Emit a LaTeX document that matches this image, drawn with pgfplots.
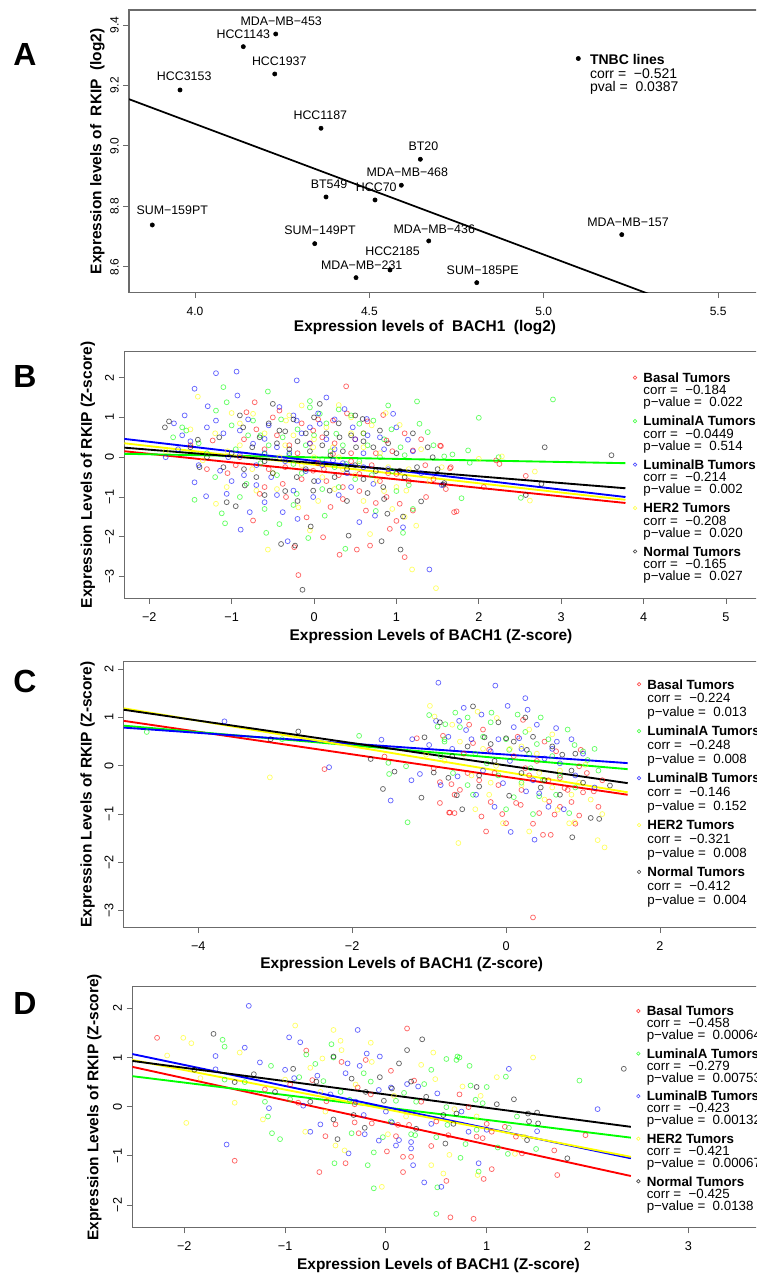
\documentclass[border=0pt]{standalone}
\usepackage{fontspec}
\setmainfont{Liberation Sans}
\usepackage{pgfplots}
\pgfplotsset{compat=1.18}

\definecolor{rc}{rgb}{1,0,0}
\definecolor{gc}{rgb}{0,1,0}
\definecolor{bc}{rgb}{0,0,1}
\definecolor{yc}{rgb}{1,1,0}
\definecolor{kc}{rgb}{0,0,0}
\definecolor{axgray}{gray}{0.42}

\pgfplotsset{
  rpanel/.style={
    scale only axis, anchor=south west,
    axis line style={axgray, line width=0.8pt},
    tick style={axgray, line width=0.7pt},
    tick align=outside, tick pos=left,
    major tick length=4.2pt,
    ticklabel style={font=\fontsize{9.5}{10}\selectfont},
    xticklabel style={yshift=-3pt},
    yticklabel style={rotate=90, anchor=south},
    label style={font=\bfseries\fontsize{11.6}{13}\selectfont},
    xlabel style={anchor=center},
    ylabel style={anchor=center},
    /pgf/number format/assume math mode=true,
  },
  pt/.style={only marks, mark=o, mark size=1.85pt, forget plot,
    mark options={draw=#1, draw opacity=0.6, line width=0.55pt}},
  rl/.style={draw=#1, line width=1.4pt, forget plot},
  rlegend/.style 2 args={legend style={draw=none, fill=none, inner sep=0pt,
    outer sep=0pt, row sep=0pt, column sep=0pt, cells={anchor=base west},
    nodes={inner sep=0pt, text height=7pt, text depth=#2,
      font=\fontsize{10}{11}\selectfont},
    at={#1}, anchor=north west}},
}

% one legend group: colour, title, corr, p-value, depth of last row
\newcommand\leggroup[5]{%
  \addlegendimage{legend image code/.code={\path[draw=none] (-2.5pt,0pt) (6.3pt,0pt);
    \draw[#1, draw opacity=0.7, line width=0.5pt] (0pt,3.6pt) circle[radius=1.3pt];}}
  \addlegendentry{\textbf{#2}}
  \addlegendimage{empty legend}\addlegendentry{corr = ~#3}
  \addlegendimage{empty legend}\addlegendentry[text depth=#5]{p−value = ~#4}
}

\begin{document}
\begin{tikzpicture}
\useasboundingbox (0pt,0pt) rectangle (567pt,957pt);
\begin{scope}
\clip (0pt,0pt) rectangle (567pt,957pt);

% ---------------- A : TNBC cell lines ----------------
\begin{axis}[rpanel, at={(96.75pt,737.5pt)}, width=485.25pt, height=212pt,
  xmin=3.8107, xmax=5.666, ymin=8.515, ymax=9.4496,
  xtick={4.0,4.5,5.0,5.5}, xticklabels={4.0,4.5,5.0,5.5},
  ytick={8.6,8.8,9.0,9.2,9.4}, yticklabels={8.6,8.8,9.0,9.2,9.4},
  ticklabel style={font=\fontsize{9}{10}\selectfont},
  xlabel={Expression levels of ~BACH1 ~(log2)},
  ylabel={Expression levels of ~RKIP ~(log2)},
  xlabel style={at={(axis description cs:0.4575,-0.1249)}},
  ylabel style={at={(axis description cs:-0.0487,0.5)}},
  legend style={draw=none, fill=none, inner sep=0pt, outer sep=0pt,
    row sep=0pt, column sep=0pt, cells={anchor=base west},
    nodes={inner sep=0pt, text height=7.5pt, text depth=2.85pt,
      font=\fontsize{10.5}{11}\selectfont},
    at={(0.6893,0.8429)}, anchor=north west},
]
\addplot[black, line width=1.3pt, forget plot] coordinates {(3.70,9.2025) (5.40,8.468)};
\addplot[only marks, mark=*, mark size=1.6pt, black, forget plot] table {
x y
4.2314 9.3702
4.1385 9.3283
4.2286 9.2380
3.9570 9.1851
4.3613 9.0585
4.6461 8.9560
4.5916 8.8701
4.3757 8.8314
4.5162 8.8215
3.8775 8.7388
4.3433 8.6770
4.6702 8.6860
4.5592 8.5900
4.4617 8.5646
4.8079 8.5480
5.2237 8.7068
};
\addplot[only marks, mark=none, forget plot, nodes near coords,
  point meta=explicit symbolic, nodes near coords align={anchor=base},
  every node near coord/.append style={inner sep=0pt, font=\fontsize{9.3}{10}\selectfont}]
  table[meta=name] {
x y name
4.2472 9.3967 MDA−MB−453
4.1385 9.3537 HCC1143
4.2415 9.2655 HCC1937
3.9690 9.2149 HCC3153
4.3593 9.0883 HCC1187
4.6547 8.9845 BT20
4.6088 8.8985 MDA−MB−468
4.3843 8.8602 BT549
4.5199 8.8503 HCC70
3.9346 8.7719 SUM−159PT
4.3585 8.7081 SUM−149PT
4.6860 8.7114 MDA−MB−436
4.5664 8.6374 HCC2185
4.4780 8.5924 MDA−MB−231
4.8251 8.5736 SUM−185PE
5.2418 8.7332 MDA−MB−157
};
\addlegendimage{legend image code/.code={\path[draw=none] (-2.5pt,0pt) (8.8pt,0pt);
  \fill[black] (0pt,4.4pt) circle[radius=1.6pt];}}
\addlegendentry{\textbf{TNBC lines}}
\addlegendimage{empty legend}\addlegendentry{corr = ~−0.521}
\addlegendimage{empty legend}\addlegendentry{pval = ~0.0387}
\end{axis}

% ---------------- B ----------------
\begin{axis}[rpanel, at={(93.2pt,508.3pt)}, width=488.8pt, height=185pt,
  xmin=-2.303, xmax=5.607, ymin=-3.543, ymax=2.653,
  xtick={-2,-1,0,1,2,3,4,5}, xticklabels={−2,−1,0,1,2,3,4,5},
  ytick={-3,-2,-1,0,1,2}, yticklabels={−3,−2,−1,0,1,2},
  xlabel={Expression Levels of BACH1 (Z-score)},
  ylabel={Expression Levels of RKIP (Z-score)},
  xlabel style={at={(axis description cs:0.4706,-0.1557)}},
  ylabel style={at={(axis description cs:-0.0560,0.5)}},
  rlegend={(0.7786,0.9128)}{2.2pt},
]
\addplot[pt=rc] coordinates {(0.39,1.78) (-0.19,-2.96) (0.84,1.06) (1.10,-2.51) (0.68,-2.22) (0.52,-2.32) (0.31,-2.45) (0.11,-2.01) (-0.24,-2.26) (-0.74,-1.59) (-0.66,-0.92) (-0.38,-0.67) (-0.90,0) (-0.82,1.13) (-0.72,1.38) (-0.42,1.17) (-0.01,0.67) (0.23,0.92) (-0.01,-0.34) (0.35,-0.75) (0.63,-1.34) (0.88,-1.0) (1.04,-1.17) (1.2,-1.34) (1.36,-1.0) (1.53,0.29) (1.66,-0.25) (1.70,-1.38) (0.92,-1.8) (0.55,-0.42) (1.0,-0.42) (-0.09,-1.51) (-1.23,0.42) (1.20,0.17) (0.88,0.42) (-0.34,-1.0) (0.23,0.08) (1.54,0.28) (1.65,-0.28) (1.73,-1.36) (2.06,-0.75) (2.57,-0.47) (2.21,-0.08) (2.25,-0.17) (-0.3,0.3) (0.1,0.5) (0.45,0.1) (-0.55,-0.3) (0.15,-0.6) (0.7,-0.2) (-0.15,0.85) (0.35,-1.05) (-1.05,-0.4) (0.6,0.6) (1.3,0.45) (-0.6,0.2) (0.05,-0.15) (0.8,-0.6) (-1.5,0.3) (1.45,-0.55)
 (-0.45,0.55) (-0.2,0.1) (0.25,0.35) (0.5,0.45) (0.75,0.1) (0.95,0.15) (-0.7,0.7) (-0.95,-0.2) (-0.15,-0.55) (0.3,-0.45) (0.55,-0.85) (0.9,-0.4) (1.15,-0.6) (-0.35,-0.25) (0.05,0.95) (0.4,1.1) (-0.6,-0.75) (0.2,-1.25) (0.75,-1.15) (1.0,-1.6) (-0.5,1.0) (-1.3,-0.3) (0.65,0.9) (1.1,0.6) (1.35,-0.2) (-0.05,0.35) (0.12,-0.3) (-0.85,0.45) (0.45,-0.1) (1.6,-0.8)};
\addplot[pt=gc] coordinates {(-1.10,1.76) (-0.56,1.65) (-0.05,1.41) (1.25,1.40) (1.28,0.84) (1.38,0.63) (-1.71,0.50) (-1.45,-1.07) (-1.12,-1.41) (-1.08,-1.66) (-0.58,-1.90) (-0.07,-2.03) (0.38,-2.30) (1.08,-1.90) (0.55,0.84) (0.72,0.92) (0.94,0.70) (0.13,-1.47) (-0.42,-1.68) (-0.21,-0.92) (-0.82,-0.67) (-1.06,1.38) (-1.19,1.17) (-1.55,0.67) (-0.60,0.08) (-0.38,0.50) (0.07,1.09) (0.27,0.59) (0.39,-0.17) (0.80,0) (-0.25,-0.17) (-0.74,0.92) (2.90,1.45) (2.00,0.99) (1.87,0.17) (1.89,-0.14) (1.68,0.07) (1.58,0.02) (1.79,-1.03) (2.51,-1.02) (2.24,0) (-0.1,0.3) (0.2,0.15) (-0.45,-0.45) (0.5,-0.55) (-0.95,0.2) (0.1,-0.8) (0.95,-0.35) (-1.3,0.1) (0.65,0.3) (-0.2,0.7) (1.15,-0.7) (0.3,1.2) (-0.65,0.55) (-1.6,0.75) (1.2,-1.3)
 (-0.3,0.05) (0.0,0.55) (0.35,0.3) (-0.55,0.3) (-0.8,0.55) (0.6,0.6) (0.85,0.45) (1.05,0.25) (-1.0,0.8) (-0.15,-0.4) (0.25,-0.25) (0.55,-0.1) (-0.4,0.95) (0.15,0.85) (0.45,1.05) (-0.65,-0.15) (-1.2,-0.5) (0.7,-0.45) (1.0,-0.85) (-0.25,-1.2) (0.3,-0.75) (-0.9,-1.0) (0.9,1.3) (1.45,0.3) (-1.4,0.35) (0.1,-0.05) (-0.05,1.25) (0.75,-1.35) (-0.6,-1.3) (1.1,0.05)};
\addplot[pt=bc] coordinates {(-1.19,2.11) (-0.94,2.15) (-0.21,1.93) (-1.45,1.72) (-1.29,1.28) (-1.57,1.05) (-1.70,0.85) (-1.19,0.92) (-0.93,1.55) (-1.80,0) (-1.45,-0.63) (-1.31,-0.98) (-1.06,-0.92) (-0.89,-1.82) (-0.78,-1.38) (-0.60,-1.13) (-0.38,-1.38) (-0.32,-2.11) (0.64,0.96) (0.74,-1.47) (1.08,-1.76) (1.40,-2.82) (1.14,0.44) (-0.60,0.46) (-0.9,0.67) (-0.74,0.34) (-0.05,0.34) (-0.01,-1.0) (0.07,0.84) (0.47,0.75) (0.55,-1.63) (0.72,-0.67) (0.96,1.09) (-1.04,0) (-1.14,-0.34) (-0.42,1.26) (-0.25,-0.84) (0.23,-0.08) (-0.21,0.92) (-0.52,-0.5) (0.37,1.21) (-0.3,0.1) (0.15,0.45) (-0.7,-0.2) (0.4,-0.4) (-1.5,0.4) (0.3,-0.95) (-0.1,-0.35) (0.85,0.2) (1.3,-0.4) (-0.55,0.8) (-1.65,0.2) (0.6,0.1) (-0.85,-0.45) (1.55,-0.7) (0.05,1.1)
 (-0.45,0.25) (-0.15,0.6) (0.25,0.2) (0.5,0.45) (0.8,0.5) (-0.8,0.95) (-1.1,0.6) (-1.3,0.75) (-0.35,-0.1) (0.05,-0.6) (0.45,-0.75) (0.9,-0.3) (-0.6,0.1) (-1.0,-0.6) (-0.25,1.05) (0.25,0.95) (0.65,0.55) (-1.4,-0.2) (-0.7,-0.7) (0.1,-0.2) (0.6,-0.25) (1.0,0.75) (-0.05,0.75) (-0.45,-0.95) (-1.6,0.55) (-0.9,0.05) (0.35,-0.15) (1.2,0.15) (-0.2,-1.55) (0.15,1.5)};
\addplot[pt=yc] coordinates {(-1.41,1.52) (-1.00,1.11) (-0.56,-2.32) (0.30,1.31) (0.87,1.11) (1.04,0.81) (1.19,-2.82) (1.48,-3.29) (1.24,-1.72) (0.68,-1.93) (-1.19,-1.17) (-1.06,-0.75) (-0.74,1.09) (-0.34,0.92) (-0.01,0.25) (0.23,0.25) (0.55,-0.17) (0.76,-0.59) (1.0,-0.75) (1.12,-0.84) (-0.19,-1.26) (-0.70,-0.84) (-1.35,-0.08) (-0.42,0) (-0.05,-1.84) (2.0,-0.04) (2.28,0.02) (2.68,-0.36) (2.62,-1.09) (1.55,-0.25) (-0.25,0.55) (0.45,0.6) (0.1,-0.5) (-0.9,0.3) (0.6,-1.1) (-0.5,-0.4) (1.3,0.2) (-1.8,0.15) (0.35,-0.3) (-0.15,1.3) (0.9,-0.25) (-1.2,0.6)
 (-0.35,0.3) (0.0,0.45) (0.3,0.0) (0.6,0.25) (-0.6,0.6) (-0.9,0.85) (0.15,0.75) (0.8,0.1) (-0.15,-0.2) (0.25,-0.8) (0.5,-0.45) (1.15,-0.3) (-1.05,0.15) (-0.45,-0.8) (0.05,-1.1) (0.95,-1.3) (0.7,0.8) (-0.75,-0.3) (1.4,-0.6) (-0.3,1.05) (0.45,1.0) (1.1,-1.5) (-1.5,0.7) (0.85,-0.85) (0.0,0.0)};
\addplot[pt=kc] coordinates {(-0.14,-3.33) (-1.76,0.90) (-1.81,0.75) (-1.06,-1.13) (-0.95,-1.23) (-0.40,-2.18) (-0.23,-2.22) (-0.04,-1.74) (0.42,-1.97) (0.82,-2.11) (1.05,-2.32) (1.08,-1.49) (0.89,-1.42) (1.30,-1.11) (0.59,0.96) (1.38,0.25) (1.44,0) (0.84,-0.75) (-1.41,0.44) (-1.39,-0.25) (-0.84,-0.71) (-0.50,1.34) (0.07,1.34) (-0.66,0.50) (-0.42,0.67) (0.31,0.50) (0.51,0.25) (0.72,0.25) (0.80,0.67) (-0.21,-0.50) (-0.01,-0.84) (0.19,-0.84) (1.04,-0.34) (-1.10,-0.25) (-0.70,-0.5) (-0.86,0.75) (1.58,-0.65) (2.80,0.25) (3.61,0.05) (2.76,-0.67) (2.57,-0.95) (1.57,-0.69) (-0.3,0.2) (0.2,0.05) (-0.6,-0.1) (0.4,-0.3) (-0.1,0.6) (0.6,-0.55) (-1.0,0.1) (0.0,1.0) (-0.35,-0.85) (1.2,0.6)
 (-0.45,0.35) (-0.2,0.4) (0.1,0.3) (0.35,0.15) (0.6,0.4) (0.9,0.35) (-0.75,0.25) (-1.15,0.5) (-0.55,0.85) (-0.25,0.95) (0.3,0.85) (0.5,1.05) (-0.1,-0.3) (0.25,-0.5) (0.5,-0.2) (0.75,-0.35) (1.1,-0.5) (-0.5,-0.4) (-0.85,-0.3) (-1.3,0.0) (0.0,-0.6) (0.4,-1.1) (0.65,-0.9) (-0.6,-0.95) (-0.2,-1.1) (1.0,0.1) (1.25,-0.25) (-0.35,0.65) (0.15,0.6) (-0.05,0.15) (0.45,0.55) (-0.9,1.05) (-1.5,0.25) (0.85,-1.05) (1.5,-0.3)};
\addplot[rl=rc] coordinates {(-2.303,0.15) (3.78,-1.15)};
\addplot[rl=gc] coordinates {(-2.303,0.085) (3.78,-0.15)};
\addplot[rl=bc] coordinates {(-2.303,0.46) (3.78,-1.00)};
\addplot[rl=yc] coordinates {(-2.303,0.35) (3.78,-1.07)};
\addplot[rl=kc] coordinates {(-2.303,0.24) (3.78,-0.78)};
\leggroup{rc}{Basal Tumors}{−0.184}{0.022}{7.2pt}
\leggroup{gc}{LuminalA Tumors}{−0.0449}{0.514}{7.2pt}
\leggroup{bc}{LuminalB Tumors}{−0.214}{0.002}{7.2pt}
\leggroup{yc}{HER2 Tumors}{−0.208}{0.020}{7.2pt}
\leggroup{kc}{Normal Tumors}{−0.165}{0.027}{2.2pt}
\end{axis}

% ---------------- C ----------------
\begin{axis}[rpanel, at={(92.8pt,261.4pt)}, width=489.2pt, height=199.4pt,
  xmin=-4.969, xmax=3.508, ymin=-3.348, ymax=2.157,
  xtick={-4,-2,0,2}, xticklabels={−4,−2,0,2},
  ytick={-3,-2,-1,0,1,2}, yticklabels={−3,−2,−1,0,1,2},
  xlabel={Expression Levels of BACH1 (Z-score)},
  ylabel={Expression Levels of RKIP (Z-score)},
  xlabel style={at={(axis description cs:0.4262,-0.1411)}},
  ylabel style={at={(axis description cs:-0.0555,0.5)}},
  rlegend={(0.7849,0.9319)}{3.3pt},
]
\addplot[pt=rc] coordinates {(-2.36,-0.07) (-1.58,0.19) (-1.16,0.57) (-0.82,0.62) (-0.86,-0.34) (-0.86,-0.77) (-0.73,-0.97) (-0.67,-0.98) (-0.71,-0.38) (-0.67,-0.60) (-0.94,-0.05) (0.35,-3.14) (0.97,0.33) (1.14,-0.53) (0.95,-1.03) (-0.26,-1.36) (0.58,-1.43) (0.48,-1.43) (0.76,-0.46) (-0.48,0.85) (-0.43,0.47) (0.22,0.95) (-0.22,0.33) (-0.74,-0.97) (-0.32,-1.05) (0,-1.19) (0.19,-0.81) (0.13,-0.77) (0.43,-0.98) (0.63,-1.01) (0.56,-0.74) (0.95,-0.01) (0.3,-0.2) (-0.1,-0.4) (0.7,-0.25) (1.25,-0.3) (-0.5,-0.15) (0.1,0.2) (0.85,-0.75) (-0.2,-0.75)
 (0.2,-0.5) (0.55,-0.3) (0.8,-0.5) (1.0,-0.55) (0.4,0.1) (-0.35,-0.3) (0.65,0.3) (-0.05,-1.0) (0.35,-1.2) (0.9,-1.2) (1.2,-0.85) (-0.55,0.25) (0.15,0.6) (-0.3,0.75) (0.7,-0.85) (1.05,-0.15) (-0.6,-0.5) (0.5,0.5) (0.25,-0.05) (-0.15,-0.15)};
\addplot[pt=gc] coordinates {(-4.67,0.70) (-2.91,0.55) (-1.91,0.62) (-1.53,0.06) (-1.52,-0.17) (-1.30,-0.01) (-1.28,-1.17) (-0.89,0.81) (-0.79,0.86) (-0.80,0.50) (-0.69,-0.15) (-0.66,1.10) (-0.19,1.10) (0.15,1.06) (-0.5,1.0) (0.89,0.43) (1.06,0.12) (0.65,-0.6) (0.04,0.33) (-0.43,-0.60) (0.82,-0.98) (0.43,-0.63) (0.32,-0.05) (0.48,-0.29) (-0.3,0.6) (0.25,0.7) (0.6,0.2) (-0.1,-0.2) (1.2,-0.1) (0.0,-0.9) (-0.85,0.2) (0.4,0.45) (-1.0,1.05)
 (-0.6,0.8) (-0.4,0.25) (0.0,0.55) (0.3,0.25) (0.55,0.55) (0.8,0.75) (1.0,0.3) (-0.2,0.9) (0.45,1.0) (0.7,-0.2) (0.2,-0.35) (-0.5,-0.4) (0.9,-0.45) (-0.8,0.55) (0.1,-0.65) (1.15,0.35) (0.35,-1.0) (-0.25,0.05)};
\addplot[pt=bc] coordinates {(-3.66,0.92) (-2.30,-0.03) (-1.62,0.54) (-1.50,-0.72) (-1.23,-0.30) (-1.22,0.55) (-1.12,-0.17) (-1.0,0.43) (-0.91,0.93) (-0.88,1.72) (-0.63,-0.22) (-0.14,1.66) (0.02,1.24) (0.37,-1.53) (0.06,-1.37) (0.65,0.78) (0.66,0.50) (0.28,1.16) (-0.61,0.93) (-0.52,0.74) (-0.32,1.06) (0.17,0.57) (0.26,-0.53) (0.43,-0.57) (-0.39,-0.60) (-0.04,-0.36) (0.5,0.15) (-0.2,0.3) (0.9,-0.2) (0.1,0.8) (-0.7,0.35) (0.75,-0.9)
 (-0.45,0.55) (-0.1,0.55) (0.2,0.35) (0.4,0.85) (0.6,0.35) (0.85,0.55) (-0.75,0.6) (-0.3,-0.1) (0.05,0.1) (0.35,-0.3) (0.7,0.05) (1.0,0.25) (-0.55,1.2) (0.25,1.4) (0.55,-0.85) (-0.15,-0.85) (1.15,-0.45) (-0.85,-0.4)};
\addplot[pt=yc] coordinates {(-3.07,-0.24) (-0.99,1.24) (-0.93,1.02) (-1.04,0.23) (-0.62,-1.60) (0.30,-1.36) (1.19,-1.54) (1.28,-1.69) (0.89,-1.17) (1.03,0.02) (-0.12,0.99) (-0.37,1.12) (-0.04,-1.19) (-0.22,-0.60) (0.67,-0.91) (0.82,-1.19) (-0.13,0) (0.43,-0.15) (0.2,0.4) (-0.45,-0.2) (0.6,-0.45) (1.1,-0.7) (-0.8,0.1)
 (-0.3,0.35) (0.05,0.35) (0.4,0.25) (0.7,-0.1) (0.95,-0.35) (-0.6,0.5) (0.2,-0.4) (0.5,-0.7) (-0.2,-0.35) (0.85,-0.6) (-0.7,0.85) (0.3,0.75) (0.6,0.65) (1.25,-1.0) (-0.4,-0.9)};
\addplot[pt=kc] coordinates {(-3.06,0.55) (-2.70,0.71) (-1.76,0.14) (-1.60,-0.48) (-1.45,-0.12) (-1.10,-0.66) (-1.06,0.59) (-0.86,0.90) (-0.64,-0.61) (-0.94,-0.14) (-0.43,1.23) (0.86,-1.48) (1.10,-1.08) (1.21,-1.10) (1.35,-0.41) (-0.28,0.59) (0,0.57) (0.27,0.33) (0.73,0.23) (-0.57,-0.9) (0.04,-0.62) (-0.35,-0.43) (0.5,-0.3) (-0.15,0.1) (0.9,0.25)
 (-0.5,0.4) (-0.2,0.45) (0.1,0.5) (0.35,0.6) (0.6,0.4) (0.85,-0.1) (-0.7,0.2) (0.2,-0.15) (0.45,-0.45) (-0.35,-0.2) (0.7,-0.6) (1.0,-0.35) (-0.1,0.9) (0.25,1.0) (-0.75,-0.25)};
\addplot[rl=rc] coordinates {(-4.969,0.93) (1.58,-0.60)};
\addplot[rl=gc] coordinates {(-4.969,0.83) (1.58,-0.07)};
\addplot[rl=bc] coordinates {(-4.969,0.79) (1.58,0.055)};
\addplot[rl=yc] coordinates {(-4.969,1.19) (1.58,-0.55)};
\addplot[rl=kc] coordinates {(-4.969,1.16) (1.58,-0.36)};
\leggroup{rc}{Basal Tumors}{−0.224}{0.013}{7.6pt}
\leggroup{gc}{LuminalA Tumors}{−0.248}{0.008}{7.6pt}
\leggroup{bc}{LuminalB Tumors}{−0.146}{0.152}{7.6pt}
\leggroup{yc}{HER2 Tumors}{−0.321}{0.008}{7.6pt}
\leggroup{kc}{Normal Tumors}{−0.412}{0.004}{3.3pt}
\end{axis}

% ---------------- D ----------------
\begin{axis}[rpanel, at={(99.2pt,36.2pt)}, width=482.8pt, height=180.75pt,
  xmin=-2.516, xmax=3.870, ymin=-2.462, ymax=2.439,
  xtick={-2,-1,0,1,2,3}, xticklabels={−2,−1,0,1,2,3},
  ytick={-2,-1,0,1,2}, yticklabels={−2,−1,0,1,2},
  xlabel={Expression Levels of BACH1 (Z-score)},
  ylabel={Expression Levels of RKIP (Z-score)},
  xlabel style={at={(axis description cs:0.4757,-0.1548)}},
  ylabel style={at={(axis description cs:-0.0587,0.5)}},
  rlegend={(0.7810,0.9178)}{2.0pt},
]
\addplot[pt=rc] coordinates {(-2.27,1.40) (-1.50,-1.10) (-0.87,0.08) (-0.79,1.14) (-0.73,0.54) (-0.66,-1.33) (-0.59,0.11) (-0.50,-0.36) (-0.40,-1.15) (-0.44,0.91) (-0.31,0.05) (-0.31,-0.32) (-0.28,0.39) (-0.27,-0.54) (-0.20,0.95) (-0.14,-0.34) (0.01,-0.91) (0.05,0.73) (0.12,-0.37) (0.17,-1.02) (0.17,-1.33) (0.21,1.59) (0.23,-0.37) (0.25,-1.02) (0.28,0.53) (0.60,-1.51) (0.64,-2.25) (0.62,-0.58) (0.73,0.25) (0.82,-0.01) (1.0,-0.35) (1.05,-0.51) (1.18,-0.41) (1.29,-0.61) (0.90,-0.61) (0.96,-0.64) (1.67,-0.89) (0.97,-1.47) (1.05,-1.27) (1.70,-1.39) (0.45,-0.8) (0.87,-2.28) (1.98,-0.58)
 (-0.95,0.45) (-0.6,-0.6) (0.35,0.1) (0.5,-0.3) (-1.2,0.35) (1.35,-0.95) (0.1,-0.6) (-0.15,0.25)};
\addplot[pt=gc] coordinates {(-1.62,1.36) (-1.60,1.22) (-1.40,0.50) (-1.14,0.83) (-1.20,0.10) (-1.17,-0.20) (-1.13,-0.54) (-1.05,-0.66) (-0.86,0.60) (-0.79,1.06) (-0.70,0.87) (-0.62,0.52) (-0.52,1.00) (-0.54,1.27) (-0.51,-1.15) (-0.36,0.14) (-0.34,-0.54) (-0.22,0.68) (-0.18,-1.19) (-0.15,0.51) (-0.12,-0.93) (-0.12,-1.66) (-0.03,-0.62) (0.10,0.12) (0.18,0.28) (0.25,-0.56) (0.29,-0.58) (0.38,0.46) (0.50,-0.62) (0.50,-2.18) (0.51,-1.64) (0.60,0.97) (0.71,1.02) (0.70,0.95) (0.73,1.00) (1.19,0.61) (0.83,0.83) (0.84,0.43) (0.89,0.14) (0.96,0.07) (0.60,-0.01) (0.61,-0.37) (1.22,-0.43) (0.79,-0.76) (1.11,-0.83) (0.74,-1.04) (1.21,-0.96) (1.49,-0.86) (0.92,-1.32) (1.92,0.53) (0.90,-0.47)
 (-0.95,0.15) (-0.45,0.3) (0.3,0.1) (0.05,-0.3) (0.45,0.75) (1.0,0.4) (-1.6,0.55) (1.3,-0.2)};
\addplot[pt=bc] coordinates {(-1.69,1.03) (-1.69,0.76) (-1.36,2.05) (-1.40,1.20) (-1.58,-0.77) (-1.16,-0.03) (-0.96,1.41) (-0.85,1.31) (-0.91,0.58) (-0.82,0.02) (-0.75,-0.51) (-0.68,0.63) (-0.65,-0.36) (-0.38,0.88) (-0.40,0.68) (-0.37,-0.95) (-0.28,1.56) (-0.26,0.83) (-0.22,-0.17) (-0.21,-0.56) (-0.19,1.08) (-0.07,-0.69) (-0.06,1.02) (-0.07,0.34) (0.05,0.39) (0.06,-0.32) (0.10,-0.79) (0.13,-0.68) (0.21,0.46) (0.25,-0.72) (0.25,-0.85) (0.27,-1.19) (0.32,0.41) (0.38,-1.54) (0.51,0.27) (0.55,-1.63) (1.22,0.77) (1.0,-0.47) (0.82,-0.51) (0.92,-1.15) (2.10,-0.05)
 (-1.25,0.9) (-0.55,0.25) (0.0,-0.1) (0.45,-0.35) (-0.3,0.1) (0.75,-0.1) (1.5,-0.5) (-1.0,0.75)};
\addplot[pt=yc] coordinates {(-2.01,1.40) (-1.93,1.29) (-2.17,1.04) (-1.84,0.58) (-1.50,0.08) (-1.98,-0.33) (-1.22,-0.26) (-0.90,1.65) (-0.80,-0.51) (-0.75,0.79) (-0.63,0.98) (-0.60,-0.10) (-0.52,1.56) (-0.50,-0.79) (-0.45,1.34) (-0.44,1.15) (-0.41,-0.89) (-0.15,1.30) (-0.14,0.91) (-0.04,-1.63) (0.02,-0.56) (0.08,0.22) (0.45,-1.19) (0.49,0.56) (0.47,1.10) (0.57,-1.36) (1.46,1.00) (0.76,0.41) (0.94,0.22) (0.68,-0.05) (1.37,-0.61) (0.63,-0.98) (1.28,-0.96) (0.91,-1.39)
 (-1.0,0.55) (-0.3,0.45) (0.2,-0.2) (0.35,0.85) (-0.65,0.3) (0.9,-0.2) (1.1,0.6) (-1.45,1.1)};
\addplot[pt=kc] coordinates {(-1.71,1.48) (-1.31,0.66) (-1.50,0.50) (-0.92,0.77) (-0.69,0.51) (-0.52,1.02) (-0.52,-0.26) (-0.48,-0.66) (-0.34,0.57) (-0.32,-0.17) (-0.21,-0.43) (-0.06,0.60) (-0.02,0.12) (0.06,0.37) (0.13,0.88) (0.21,1.15) (0.25,0.51) (0.36,1.37) (0.57,-0.17) (0.59,-0.75) (1.27,0.15) (1.41,-0.14) (1.50,-0.12) (1.42,-0.30) (1.51,-0.34) (0.67,-0.35) (0.70,-0.14) (1.40,-0.68) (1.80,-1.05) (2.36,0.77)
 (-1.1,0.3) (-0.75,0.1) (0.4,0.2) (0.9,0.4) (-0.2,0.3) (0.3,-0.45) (1.1,0.05) (-1.9,0.75)};
\addplot[rl=rc] coordinates {(-2.516,0.81) (2.43,-1.41)};
\addplot[rl=gc] coordinates {(-2.516,0.62) (2.43,-0.63)};
\addplot[rl=bc] coordinates {(-2.516,1.07) (2.43,-1.05)};
\addplot[rl=yc] coordinates {(-2.516,0.95) (2.43,-1.02)};
\addplot[rl=kc] coordinates {(-2.516,0.93) (2.43,-0.41)};
\leggroup{rc}{Basal Tumors}{−0.458}{0.00064}{6.9pt}
\leggroup{gc}{LuminalA Tumors}{−0.279}{0.00753}{6.9pt}
\leggroup{bc}{LuminalB Tumors}{−0.423}{0.00132}{6.9pt}
\leggroup{yc}{HER2 Tumors}{−0.421}{0.00067}{6.9pt}
\leggroup{kc}{Normal Tumors}{−0.425}{0.0138}{2.0pt}
\end{axis}

% panel letters
\begin{scope}[every node/.style={font=\bfseries\fontsize{24}{24}\selectfont}]
\node at (18.75pt,915.75pt) {A};
\node at (18.75pt,674.6pt) {B};
\node at (18.75pt,446.25pt) {C};
\node at (18.75pt,204.75pt) {D};
\end{scope}
\end{scope}
\end{tikzpicture}
\end{document}
